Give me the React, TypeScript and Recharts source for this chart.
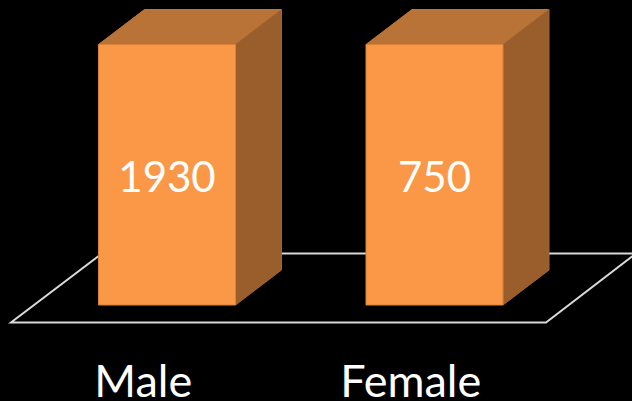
import { Bar, BarChart, LabelList, XAxis, YAxis } from 'recharts';

const categories = ['Male', 'Female'];
const counts = [1930, 750];
// the source slide draws both boxes at the same height, whatever the count says
const drawnHeights = [100, 100];

const rows = categories.map((name, i) => ({ name, count: counts[i], height: drawnHeights[i] }));

const DEPTH_X = 46;
const DEPTH_Y = 35;

function BoxBar({ x, y, width, height }: any) {
  const r = x + width;
  const b = y + height;
  return (
    <g strokeWidth={1} strokeLinejoin="round">
      <polygon
        points={`${x},${y} ${x + DEPTH_X},${y - DEPTH_Y} ${r + DEPTH_X},${y - DEPTH_Y} ${r},${y}`}
        fill="#BA7337"
        stroke="#C07838"
      />
      <polygon
        points={`${r},${y} ${r + DEPTH_X},${y - DEPTH_Y} ${r + DEPTH_X},${b - DEPTH_Y} ${r},${b}`}
        fill="#9A5E2C"
        stroke="#A5652F"
      />
      <rect x={x} y={y} width={width} height={height} fill="#FB9848" stroke="#D98236" />
    </g>
  );
}

function CategoryTick({ x, y, payload }: any) {
  return (
    <text x={x - 24} y={y + 84} textAnchor="middle" fill="#fff" fontSize={45} fontFamily="Lato">
      {payload.value}
    </text>
  );
}

export default function App() {
  return (
    <div style={{ position: 'fixed', left: 0, top: 0, width: 632, height: 401, background: '#000', overflow: 'hidden' }}>
      <BarChart
        width={632}
        height={401}
        data={rows}
        margin={{ top: 44.5, right: 63.5, bottom: 0, left: 33.5 }}
        barSize={137}
      >
        <path d="M11 322.5 L546 322.5 L636 253.5 L102 253.5 Z" fill="none" stroke="#D9D9D9" strokeWidth={2} />
        <XAxis
          dataKey="name"
          height={96}
          axisLine={false}
          tickLine={false}
          interval={0}
          tick={<CategoryTick />}
        />
        <YAxis hide domain={[0, 100]} />
        <Bar dataKey="height" shape={<BoxBar />} isAnimationActive={false}>
          <LabelList
            dataKey="count"
            position="center"
            fill="#fff"
            fontSize={42}
            fontFamily="Lato"
            dy={2}
          />
        </Bar>
      </BarChart>
    </div>
  );
}
